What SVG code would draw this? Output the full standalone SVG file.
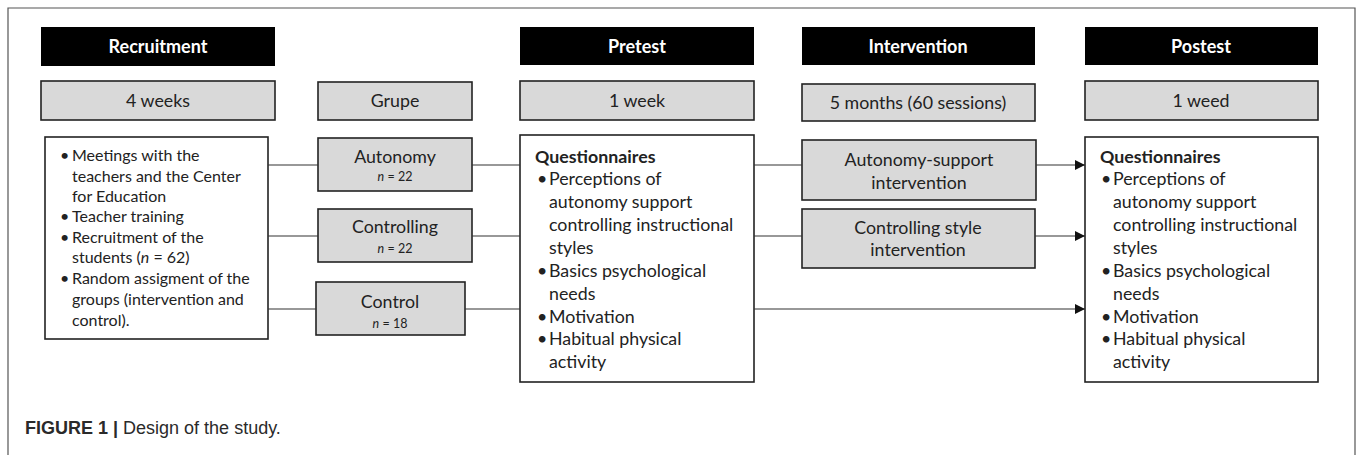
<svg xmlns="http://www.w3.org/2000/svg" width="1358" height="455" viewBox="0 0 1358 455">
<defs>
<marker id="arr" viewBox="0 0 10 10" refX="10" refY="5" markerWidth="10" markerHeight="10" markerUnits="userSpaceOnUse" orient="auto"><path d="M0,0 L10,5 L0,10 Z" fill="#111"/></marker>
</defs>
<style>
.hdr{fill:#000}
.hdrt{fill:#fff;font-family:Lato,"Open Sans",sans-serif;font-weight:bold;font-size:18px;text-anchor:middle}
.gbox{fill:#d9d9d9;stroke:#222;stroke-width:1.6}
.wbox{fill:#fff;stroke:#222;stroke-width:1.6}
.t{font-family:Lato,"Open Sans",sans-serif;font-size:17.8px;fill:#222}
.s{font-size:16px}
.c{text-anchor:middle}
.n{font-family:Lato,"Open Sans",sans-serif;font-size:12.5px;fill:#222;text-anchor:middle}
.ln{stroke:#333;stroke-width:1.1;fill:none}
.bold{font-weight:bold}
.frame{stroke:#555;stroke-width:1.2;fill:none}
.cap{font-family:"Liberation Sans",Arial,sans-serif;font-size:18px;fill:#2a2a2a}
</style>
<path class="frame" d="M8,455 V8 H1355 V455"/>

<g id="headers">
<g id="h-recruitment"><rect class="hdr" x="41" y="27" width="234" height="39"/><text class="hdrt" x="158" y="53">Recruitment</text></g>
<g id="h-pretest"><rect class="hdr" x="520" y="27" width="234" height="38"/><text class="hdrt" x="637" y="53">Pretest</text></g>
<g id="h-intervention"><rect class="hdr" x="802" y="27" width="233" height="38"/><text class="hdrt" x="918" y="53">Intervention</text></g>
<g id="h-postest"><rect class="hdr" x="1085" y="27" width="233" height="38"/><text class="hdrt" x="1201" y="53">Postest</text></g>
</g>

<g id="durations">
<g id="d-4weeks"><rect class="gbox" x="41" y="81" width="234" height="39"/><text class="t c" x="158" y="107">4 weeks</text></g>
<g id="d-grupe"><rect class="gbox" x="318" y="82" width="154" height="38"/><text class="t c" x="395" y="107">Grupe</text></g>
<g id="d-1week"><rect class="gbox" x="520" y="81" width="234" height="39"/><text class="t c" x="637" y="107">1 week</text></g>
<g id="d-5months"><rect class="gbox" x="802" y="84" width="233" height="37"/><text class="t c" x="918" y="109">5 months (60 sessions)</text></g>
<g id="d-1weed"><rect class="gbox" x="1085" y="81" width="233" height="39"/><text class="t c" x="1201" y="107">1 weed</text></g>
</g>

<g id="recruit-box">
<rect class="wbox" x="45" y="137" width="223" height="202"/>
<text class="t s">
<tspan x="60" y="161">•</tspan><tspan x="72" y="161">Meetings with the</tspan>
<tspan x="72" y="182">teachers and the Center</tspan>
<tspan x="72" y="202">for Education</tspan>
<tspan x="60" y="222">•</tspan><tspan x="72" y="222">Teacher training</tspan>
<tspan x="60" y="243">•</tspan><tspan x="72" y="243">Recruitment of the</tspan>
<tspan x="72" y="263">students (<tspan font-style="italic">n</tspan> = 62)</tspan>
<tspan x="60" y="284">•</tspan><tspan x="72" y="284">Random assigment of the</tspan>
<tspan x="72" y="305">groups (intervention and</tspan>
<tspan x="72" y="326">control).</tspan>
</text>
</g>

<g id="g-autonomy"><rect class="gbox" x="318" y="138" width="154" height="53"/><text class="t c" x="395" y="163">Autonomy</text><text class="n" x="395" y="181"><tspan font-style="italic">n</tspan> = 22</text></g>
<g id="g-controlling"><rect class="gbox" x="318" y="209" width="154" height="53"/><text class="t c" x="395" y="233">Controlling</text><text class="n" x="395" y="253"><tspan font-style="italic">n</tspan> = 22</text></g>
<g id="g-control"><rect class="gbox" x="316" y="282" width="149" height="53"/><text class="t c" x="390" y="308">Control</text><text class="n" x="390" y="328"><tspan font-style="italic">n</tspan> = 18</text></g>

<g id="pretest-box">
<rect class="wbox" x="520" y="135" width="234" height="247"/>
<text class="t">
<tspan x="535" y="163" class="bold">Questionnaires</tspan>
<tspan x="537" y="185">•</tspan><tspan x="549" y="185">Perceptions of</tspan>
<tspan x="549" y="208">autonomy support</tspan>
<tspan x="549" y="231">controlling instructional</tspan>
<tspan x="549" y="254">styles</tspan>
<tspan x="537" y="277">•</tspan><tspan x="549" y="277">Basics psychological</tspan>
<tspan x="549" y="300">needs</tspan>
<tspan x="537" y="323">•</tspan><tspan x="549" y="323">Motivation</tspan>
<tspan x="537" y="345">•</tspan><tspan x="549" y="345">Habitual physical</tspan>
<tspan x="549" y="368">activity</tspan>
</text>
</g>

<g id="i-autonomy"><rect class="gbox" x="802" y="140" width="234" height="60"/><text class="t c" x="919" y="166">Autonomy-support</text><text class="t c" x="919" y="189">intervention</text></g>
<g id="i-controlling"><rect class="gbox" x="802" y="209" width="233" height="59"/><text class="t c" x="918" y="234">Controlling style</text><text class="t c" x="918" y="256">intervention</text></g>

<g id="postest-box">
<rect class="wbox" x="1085" y="137" width="233" height="245"/>
<text class="t">
<tspan x="1100" y="163" class="bold">Questionnaires</tspan>
<tspan x="1101" y="185">•</tspan><tspan x="1113" y="185">Perceptions of</tspan>
<tspan x="1113" y="208">autonomy support</tspan>
<tspan x="1113" y="231">controlling instructional</tspan>
<tspan x="1113" y="254">styles</tspan>
<tspan x="1101" y="277">•</tspan><tspan x="1113" y="277">Basics psychological</tspan>
<tspan x="1113" y="300">needs</tspan>
<tspan x="1101" y="323">•</tspan><tspan x="1113" y="323">Motivation</tspan>
<tspan x="1101" y="345">•</tspan><tspan x="1113" y="345">Habitual physical</tspan>
<tspan x="1113" y="368">activity</tspan>
</text>
</g>

<g id="connectors">
<path class="ln" d="M268,165 H318"/>
<path class="ln" d="M268,236 H318"/>
<path class="ln" d="M268,309 H316"/>
<path class="ln" d="M472,165 H520"/>
<path class="ln" d="M472,236 H520"/>
<path class="ln" d="M465,309 H520"/>
<path class="ln" d="M754,165 H802"/>
<path class="ln" d="M754,236 H802"/>
<path class="ln" d="M1036,165 H1085" marker-end="url(#arr)"/>
<path class="ln" d="M1035,236 H1085" marker-end="url(#arr)"/>
<path class="ln" d="M754,309 H1085" marker-end="url(#arr)"/>
</g>

<g id="caption">
<text class="cap" x="25" y="434"><tspan font-weight="bold">FIGURE 1 | </tspan>Design of the study.</text>
</g>
</svg>
